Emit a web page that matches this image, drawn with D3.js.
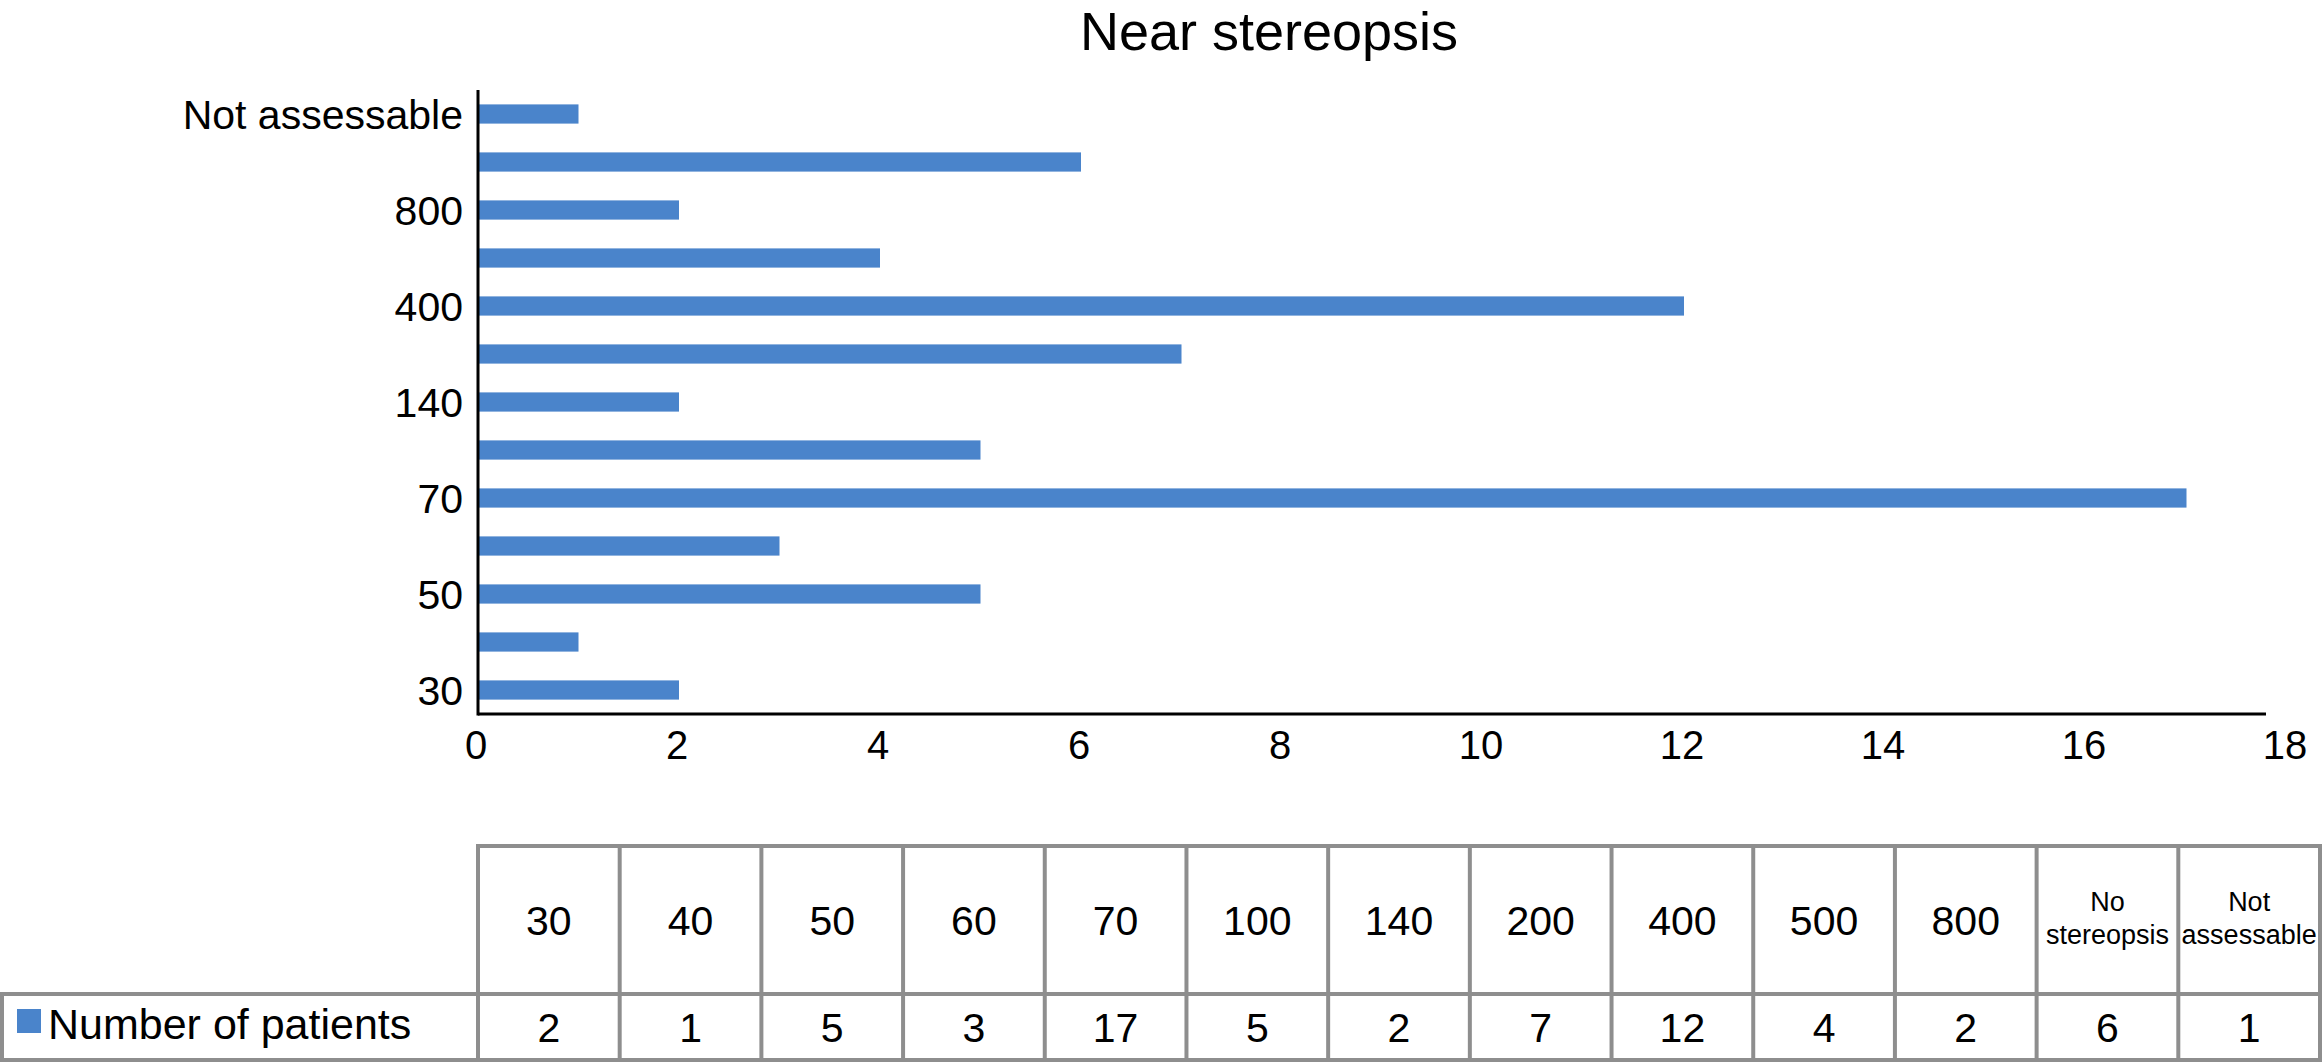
<!DOCTYPE html>
<html>
<head>
<meta charset="utf-8">
<script src="https://cdn.jsdelivr.net/npm/d3@7"></script>
<style>
  body { margin: 0; background: #fff; }
  text { font-family: "Liberation Sans", Arial, Helvetica, sans-serif; fill: #000; }
</style>
</head>
<body>
<div class="App"></div>
<script>
// categories (stereo threshold, arcsec) and counts
const categories = ["30", "40", "50", "60", "70", "100", "140", "200", "400", "500", "800", "No stereopsis", "Not assessable"];
const patients = [2, 1, 5, 3, 17, 5, 2, 7, 12, 4, 2, 6, 1];
const xTicks = [0, 2, 4, 6, 8, 10, 12, 14, 16, 18];
// Excel skips every other category label on the axis
const yLabelled = ["30", "50", "70", "140", "400", "800", "Not assessable"];
const seriesName = "Number of patients";

const width = 2322, height = 1064;
const blue = "#4a84cb", grid = "#8e8e8e";

const svg = d3.select(".App").append("svg")
    .attr("width", width)
    .attr("height", height);

const x = d3.scaleLinear()
    .domain([0, 18])
    .range([478, 2287]);

const y = d3.scaleBand()
    .domain(categories)
    .range([714, 90])
    .paddingInner(0.6)
    .paddingOuter(0.3);

svg.append("text")
    .attr("x", 1269)
    .attr("y", 50)
    .attr("text-anchor", "middle")
    .style("font-size", "54px")
    .text("Near stereopsis");

// bars
svg.append("g").selectAll("rect")
    .data(categories)
  .enter().append("rect")
    .attr("x", x(0))
    .attr("y", function(d) { return y(d); })
    .attr("width", function(d, i) { return x(patients[i]) - x(0); })
    .attr("height", y.bandwidth())
    .attr("fill", blue);

// value axis: line is cut short before the last tick, as in the original
svg.append("line")
    .attr("x1", x(0)).attr("x2", 2266)
    .attr("y1", 714).attr("y2", 714)
    .attr("stroke", "#000").attr("stroke-width", 3);

svg.append("g").selectAll("text")
    .data(xTicks)
  .enter().append("text")
    .attr("x", function(d) { return x(d) - 2; })
    .attr("y", 759)
    .attr("text-anchor", "middle")
    .style("font-size", "40px")
    .text(function(d) { return d; });

// category axis
svg.append("line")
    .attr("x1", x(0)).attr("x2", x(0))
    .attr("y1", 90).attr("y2", 715.5)
    .attr("stroke", "#000").attr("stroke-width", 3);

svg.append("g").selectAll("text")
    .data(yLabelled)
  .enter().append("text")
    .attr("x", 463)
    .attr("y", function(d) { return y(d) + y.bandwidth() / 2; })
    .attr("dy", "0.36em")
    .attr("text-anchor", "end")
    .style("font-size", "41px")
    .text(function(d) { return d; });

// data table under the chart
const col = d3.scaleBand()
    .domain(categories)
    .range([478, 2320]);

const rowTop = 846, rowMid = 994, rowBot = 1060;
const table = svg.append("g");

table.append("g").selectAll("text")
    .data(categories)
  .enter().append("text")
    .attr("x", function(d) { return col(d) + col.bandwidth() / 2; })
    .attr("y", (rowTop + rowMid) / 2)
    .attr("text-anchor", "middle")
    .each(function(d) {
      var t = d3.select(this), words = d.split(" ");
      if (words.length == 1) {
        t.attr("dy", "0.36em").style("font-size", "41px").text(d);
      } else {
        t.style("font-size", "27px");
        words.forEach(function(w, i) {
          t.append("tspan")
            .attr("x", col(d) + col.bandwidth() / 2)
            .attr("y", (rowTop + rowMid) / 2 + (i == 0 ? -9 : 24))
            .text(w);
        });
      }
    });

table.append("g").selectAll("text")
    .data(patients)
  .enter().append("text")
    .attr("x", function(d, i) { return col(categories[i]) + col.bandwidth() / 2; })
    .attr("y", (rowMid + rowBot) / 2)
    .attr("dy", "0.36em")
    .attr("text-anchor", "middle")
    .style("font-size", "41px")
    .text(function(d) { return d; });

// legend key in the row header
table.append("rect")
    .attr("x", 17).attr("y", 1009)
    .attr("width", 24).attr("height", 24)
    .attr("fill", blue);

table.append("text")
    .attr("x", 48)
    .attr("y", 1039)
    .style("font-size", "43px")
    .text(seriesName);

// grid lines
var lines = [];
col.domain().forEach(function(d) {
  lines.push([col(d), rowTop, col(d), rowBot]);
});
lines.push([2320, rowTop, 2320, rowBot]);
lines.push([col.range()[0], rowTop, 2320, rowTop]);
lines.push([2, rowMid, 2320, rowMid]);
lines.push([2, rowBot, 2320, rowBot]);
lines.push([2, rowMid, 2, rowBot]);

table.append("g").selectAll("line")
    .data(lines)
  .enter().append("line")
    .attr("x1", function(d) { return d[0]; })
    .attr("y1", function(d) { return d[1]; })
    .attr("x2", function(d) { return d[2]; })
    .attr("y2", function(d) { return d[3]; })
    .attr("stroke", grid)
    .attr("stroke-width", 4)
    .attr("stroke-linecap", "square");
</script>
</body>
</html>
